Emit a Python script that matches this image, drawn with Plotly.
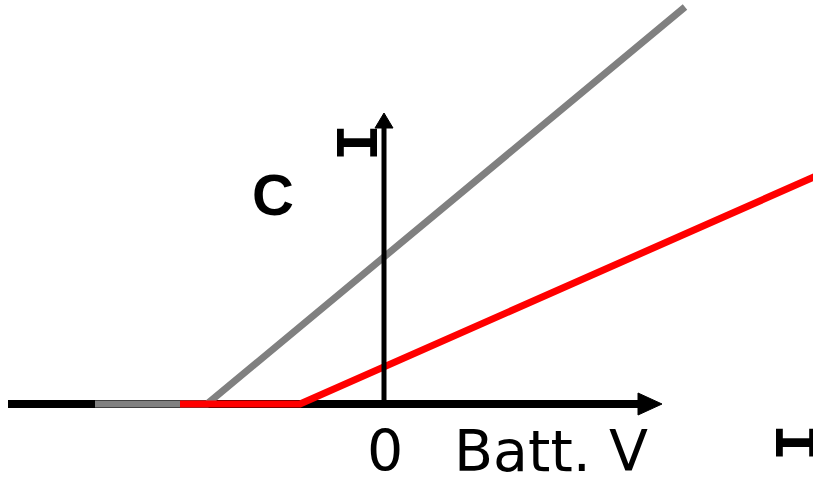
import plotly.graph_objects as go

# Data (units: 1 unit = 100 px; origin at the axes crossing)
axis_x = [-3.75, 2.55]           # horizontal axis shaft (arrow tip at 2.78)
axis_y = [0.0, 2.76]             # vertical axis shaft (arrow tip at 2.91)
gray_x = [-2.88, -1.76, 3.02]
gray_y = [0.0, 0.0, 3.97]
red_x = [-2.03, -0.83, 4.40]
red_y = [0.0, 0.0, 2.31]

x_tip, y_tip = 2.79, 2.91
hw, hl = 0.11, 0.24   # horizontal arrow half-height / length
vw, vl = 0.09, 0.15   # vertical arrow half-width / length

fig = go.Figure()
fig.add_trace(go.Scatter(x=axis_x, y=[0, 0], mode="lines",
                         line=dict(color="black", width=8), hoverinfo="skip"))
fig.add_trace(go.Scatter(x=gray_x, y=gray_y, mode="lines",
                         line=dict(color="#808080", width=7), hoverinfo="skip"))
fig.add_trace(go.Scatter(x=red_x, y=red_y, mode="lines",
                         line=dict(color="#ff0000", width=7), hoverinfo="skip"))
fig.add_trace(go.Scatter(x=[0.01, 0.01], y=axis_y, mode="lines",
                         line=dict(color="black", width=5), hoverinfo="skip"))
# arrowheads
fig.add_trace(go.Scatter(x=[x_tip - hl, x_tip, x_tip - hl, x_tip - hl],
                         y=[hw, 0, -hw, hw], mode="lines", fill="toself",
                         fillcolor="black", line=dict(color="black", width=1),
                         hoverinfo="skip"))
fig.add_trace(go.Scatter(x=[0.01 - vw, 0.01, 0.01 + vw, 0.01 - vw],
                         y=[y_tip - vl, y_tip, y_tip - vl, y_tip - vl], mode="lines",
                         fill="toself", fillcolor="black",
                         line=dict(color="black", width=1), hoverinfo="skip"))

ann = []
ann.append(dict(x=-1.1, y=2.1, text="<b>C</b>", showarrow=False,
                font=dict(family="Liberation Sans", size=58, color="black")))
ann.append(dict(x=0.02, y=-0.47, text="0", showarrow=False,
                font=dict(family="DejaVu Sans", size=57, color="black")))
ann.append(dict(x=1.68, y=-0.47, text="Batt. V", showarrow=False,
                font=dict(family="DejaVu Sans", size=57, color="black")))
ann.append(dict(x=-0.29, y=2.62, text="<b>I</b>", showarrow=False, textangle=90,
                font=dict(family="Liberation Mono", size=62, color="black")))
ann.append(dict(x=4.10, y=-0.38, text="<b>I</b>", showarrow=False, textangle=90,
                font=dict(family="Liberation Mono", size=62, color="black")))

fig.update_layout(
    width=813, height=483, margin=dict(l=0, r=0, t=0, b=0),
    paper_bgcolor="white", plot_bgcolor="white", showlegend=False,
    xaxis=dict(range=[-3.83, 4.30], visible=False, fixedrange=True),
    yaxis=dict(range=[-0.79, 4.04], visible=False, fixedrange=True),
    annotations=ann,
)
fig.write_html("out.html", config={"displayModeBar": False},
               post_script="document.body.style.margin='0';document.body.style.overflow='hidden';")
